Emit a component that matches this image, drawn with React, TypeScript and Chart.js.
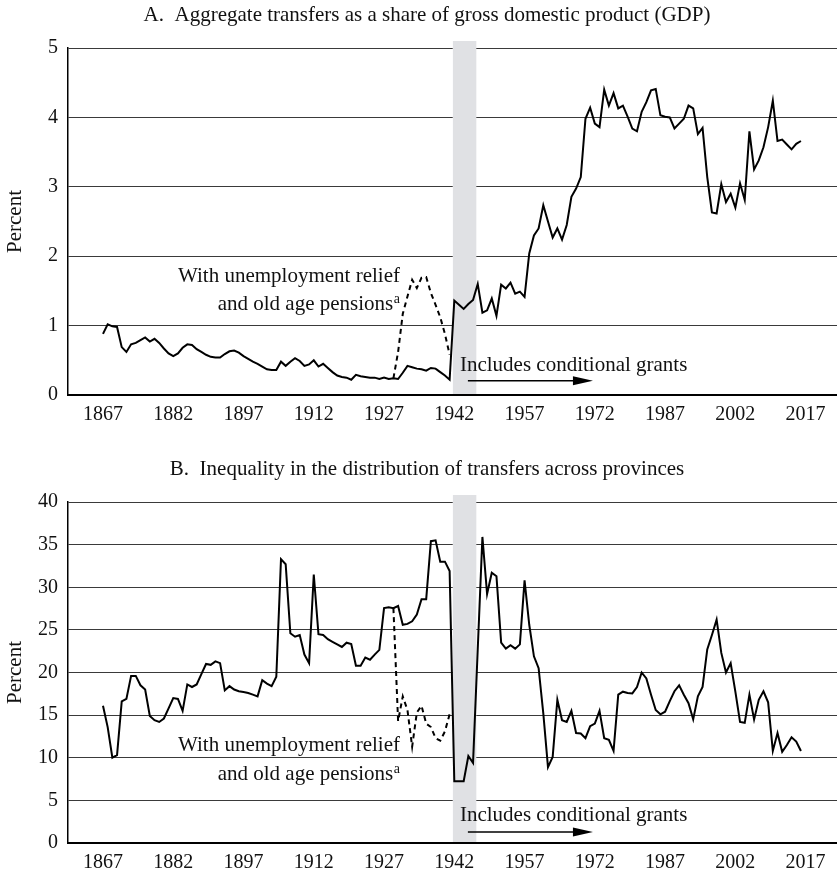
import React, { useEffect, useRef } from "react";
import { Chart, registerables } from "chart.js";

Chart.register(...registerables);

// ---------------- data ----------------
const FIRST_YEAR = 1867;
const RELIEF_FIRST_YEAR = 1929;
const xTickYears = [1867, 1882, 1897, 1912, 1927, 1942, 1957, 1972, 1987, 2002, 2017];
const conditionalGrantsBand = [1941.7, 1946.7];

// Panel A: aggregate transfers as % of GDP, 1867-2016
const transfersShareGdp = [
  0.88, 1.02, 0.99, 0.98, 0.69, 0.62, 0.73, 0.75, 0.79, 0.83,
  0.77, 0.81, 0.75, 0.67, 0.6, 0.56, 0.6, 0.68, 0.73, 0.72,
  0.66, 0.62, 0.58, 0.55, 0.54, 0.54, 0.59, 0.63, 0.64, 0.61,
  0.56, 0.52, 0.48, 0.45, 0.41, 0.37, 0.36, 0.36, 0.48, 0.42,
  0.48, 0.53, 0.49, 0.42, 0.44, 0.5, 0.41, 0.45, 0.39, 0.33,
  0.28, 0.26, 0.25, 0.22, 0.29, 0.27, 0.26, 0.25, 0.25, 0.23,
  0.25, 0.23, 0.24, 0.23, 0.32, 0.42, 0.4, 0.38, 0.37, 0.35,
  0.39, 0.38, 0.33, 0.28, 0.22, 1.36, 1.3, 1.24, 1.31, 1.37,
  1.6, 1.185, 1.22, 1.39, 1.14, 1.59, 1.535, 1.62, 1.46, 1.49,
  1.415, 2.04, 2.3, 2.4, 2.735, 2.5, 2.27, 2.4, 2.24, 2.45,
  2.855, 2.975, 3.14, 3.98, 4.14, 3.91, 3.86, 4.4, 4.17, 4.35,
  4.13, 4.17, 4.01, 3.84, 3.8, 4.08, 4.22, 4.39, 4.41, 4.03,
  4.01, 4.0, 3.84, 3.91, 3.98, 4.17, 4.13, 3.76, 3.85, 3.14,
  2.63, 2.615, 3.04, 2.78, 2.9, 2.7, 3.05, 2.81, 3.8, 3.25,
  3.38, 3.57, 3.86, 4.24, 3.66, 3.68, 3.61, 3.54, 3.62, 3.66,
];
// Panel A: with unemployment relief and old age pensions, 1929-1941
const transfersShareGdpWithRelief = [0.24, 0.62, 1.17, 1.42, 1.66, 1.54, 1.69, 1.7, 1.47, 1.3, 1.12, 0.88, 0.58];

// Panel B: inequality of transfers across provinces, 1867-2016
const transfersInequality = [
  16.1, 13.6, 10.0, 10.3, 16.6, 16.9, 19.6, 19.6, 18.5, 18.0,
  14.9, 14.4, 14.2, 14.6, 15.8, 17.0, 16.9, 15.5, 18.6, 18.3,
  18.6, 19.8, 21.0, 20.9, 21.3, 21.1, 17.9, 18.4, 18.0, 17.8,
  17.7, 17.6, 17.4, 17.2, 19.1, 18.7, 18.4, 19.5, 33.3, 32.7,
  24.6, 24.2, 24.4, 22.1, 21.1, 31.5, 24.5, 24.4, 23.9, 23.6,
  23.3, 23.0, 23.5, 23.35, 20.8, 20.8, 21.75, 21.5, 22.1, 22.65,
  27.55, 27.65, 27.55, 27.8, 25.6, 25.7, 26.0, 26.8, 28.6, 28.6,
  35.4, 35.5, 33.0, 33.0, 31.9, 7.25, 7.25, 7.25, 10.2, 9.4,
  22.7, 35.9, 29.2, 31.7, 31.3, 23.5, 22.8, 23.2, 22.8, 23.3,
  30.8, 25.6, 21.9, 20.5, 15.2, 8.9, 10.1, 16.8, 14.4, 14.2,
  15.5, 12.9, 12.85, 12.3, 13.7, 14.0, 15.5, 12.3, 12.1, 10.8,
  17.4, 17.75, 17.6, 17.55, 18.3, 20.0, 19.3, 17.4, 15.6, 15.1,
  15.4, 16.65, 17.8, 18.5, 17.4, 16.4, 14.5, 17.2, 18.3, 22.7,
  24.4, 26.2, 22.3, 20.0, 21.1, 17.75, 14.2, 14.1, 17.4, 14.5,
  16.8, 17.8, 16.5, 10.8, 12.9, 10.7, 11.5, 12.4, 11.9, 10.8,
];
// Panel B: with unemployment relief and old age pensions, 1929-1941
const transfersInequalityWithRelief = [27.55, 14.3, 17.2, 15.6, 11.3, 15.3, 16.1, 14.0, 13.6, 12.3, 12.0, 13.1, 15.1];

const titleA = "A.  Aggregate transfers as a share of gross domestic product (GDP)";
const titleB = "B.  Inequality in the distribution of transfers across provinces";
const yAxisTitle = "Percent";
const reliefLine1 = "With unemployment relief";
const reliefLine2 = "and old age pensions";
const reliefNote = "a";
const grantsLabel = "Includes conditional grants";

// ---------------- styling / layout ----------------
const FONT = '"Liberation Serif", "Times New Roman", serif';
const W = 837;
const H = 437;

type PanelCfg = {
  title: string;
  values: number[];
  reliefValues: number[];
  yMax: number;
  yStep: number;
  padTop: number;
  xAxisHeight: number;
  titleBaseline: number;
  relief: { x: number; y1: number; y2: number };
  grants: { x: number; y: number; arrowY: number; from: number; to: number };
};

const panelA: PanelCfg = {
  title: titleA,
  values: transfersShareGdp,
  reliefValues: transfersShareGdpWithRelief,
  yMax: 5,
  yStep: 1,
  padTop: 48,
  xAxisHeight: 42,
  titleBaseline: 21,
  relief: { x: 1930.4, y1: 1.631, y2: 1.224 },
  grants: { x: 1943.2, y: 0.346, arrowY: 0.206, from: 1944.9, to: 1971.6 },
};

const panelB: PanelCfg = {
  title: titleB,
  values: transfersInequality,
  reliefValues: transfersInequalityWithRelief,
  yMax: 40,
  yStep: 5,
  padTop: 65,
  xAxisHeight: 31,
  titleBaseline: 38,
  relief: { x: 1930.4, y1: 10.78, y2: 7.37 },
  grants: { x: 1943.2, y: 2.55, arrowY: 1.29, from: 1944.9, to: 1971.6 },
};

function decorPlugin(cfg: PanelCfg) {
  return {
    id: "decor",
    beforeDatasetsDraw(chart: any) {
      const { ctx, chartArea, scales } = chart;
      const x0 = scales.x.getPixelForValue(conditionalGrantsBand[0]);
      const x1 = scales.x.getPixelForValue(conditionalGrantsBand[1]);
      ctx.save();
      ctx.fillStyle = "#e0e1e4";
      ctx.fillRect(x0, chartArea.top - 7, x1 - x0, chartArea.bottom - chartArea.top + 7);
      ctx.restore();
    },
    afterDraw(chart: any) {
      const { ctx, chartArea, scales } = chart;
      const xs = scales.x;
      const ys = scales.y;
      ctx.save();
      ctx.fillStyle = "#111";
      ctx.textBaseline = "alphabetic";
      // title
      ctx.font = `21px ${FONT}`;
      ctx.textAlign = "center";
      ctx.fillText(cfg.title, 427, cfg.titleBaseline);
      // y axis title
      ctx.save();
      ctx.translate(21, (chartArea.top + chartArea.bottom) / 2);
      ctx.rotate(-Math.PI / 2);
      ctx.textAlign = "center";
      ctx.font = `21px ${FONT}`;
      ctx.fillText(yAxisTitle, 0, 0);
      ctx.restore();
      // relief label
      const rx = xs.getPixelForValue(cfg.relief.x);
      ctx.font = `21px ${FONT}`;
      ctx.textAlign = "right";
      ctx.fillText(reliefLine1, rx, ys.getPixelForValue(cfg.relief.y1));
      ctx.font = `14px ${FONT}`;
      const aw = ctx.measureText(reliefNote).width;
      const l2y = ys.getPixelForValue(cfg.relief.y2);
      ctx.textAlign = "left";
      ctx.fillText(reliefNote, rx - aw, l2y - 7);
      ctx.font = `21px ${FONT}`;
      ctx.textAlign = "right";
      ctx.fillText(reliefLine2, rx - aw - 0.5, l2y);
      // grants label + arrow
      ctx.textAlign = "left";
      ctx.fillText(grantsLabel, xs.getPixelForValue(cfg.grants.x), ys.getPixelForValue(cfg.grants.y));
      const ay = ys.getPixelForValue(cfg.grants.arrowY);
      const ax0 = xs.getPixelForValue(cfg.grants.from);
      const ax1 = xs.getPixelForValue(cfg.grants.to);
      ctx.strokeStyle = "#000";
      ctx.lineWidth = 1.5;
      ctx.beginPath();
      ctx.moveTo(ax0, ay);
      ctx.lineTo(ax1 - 18, ay);
      ctx.stroke();
      ctx.fillStyle = "#000";
      ctx.beginPath();
      ctx.moveTo(ax1, ay);
      ctx.lineTo(ax1 - 20, ay - 4.5);
      ctx.lineTo(ax1 - 20, ay + 4.5);
      ctx.closePath();
      ctx.fill();
      ctx.restore();
    },
  };
}

function Panel({ cfg, top }: { cfg: PanelCfg; top: number }) {
  const ref = useRef<HTMLCanvasElement | null>(null);
  useEffect(() => {
    if (!ref.current) return;
    const main = cfg.values.map((v, i) => ({ x: FIRST_YEAR + i, y: v }));
    const relief = cfg.reliefValues.map((v, i) => ({ x: RELIEF_FIRST_YEAR + i, y: v }));
    const chart = new Chart(ref.current, {
      type: "line",
      data: {
        datasets: [
          {
            data: relief,
            borderColor: "#000",
            borderWidth: 2,
            borderDash: [5, 4],
            pointRadius: 0,
            tension: 0,
            fill: false,
          },
          {
            data: main,
            borderColor: "#000",
            borderWidth: 2,
            pointRadius: 0,
            tension: 0,
            fill: false,
          },
        ],
      },
      plugins: [decorPlugin(cfg)],
      options: {
        animation: false,
        responsive: false,
        devicePixelRatio: 1,
        parsing: false as any,
        layout: { padding: { left: 0, right: 0, top: cfg.padTop, bottom: 0 } },
        plugins: { legend: { display: false }, tooltip: { enabled: false }, title: { display: false } },
        scales: {
          x: {
            type: "linear",
            min: 1859.53,
            max: 2023.7,
            grid: { display: false, drawTicks: false },
            border: { display: true, color: "#000", width: 2, z: 1 },
            afterBuildTicks: (s: any) => {
              s.ticks = xTickYears.map((v) => ({ value: v }));
            },
            afterFit: (s: any) => {
              s.height = cfg.xAxisHeight;
            },
            ticks: {
              autoSkip: false,
              maxRotation: 0,
              padding: 8,
              color: "#111",
              font: { family: FONT, size: 20 },
              callback: (v: any) => String(v),
            },
          },
          y: {
            type: "linear",
            min: 0,
            max: cfg.yMax,
            grid: { color: "#3a3a3a", lineWidth: 1, drawTicks: false },
            border: { display: true, color: "#000", width: 1.5, z: 1 },
            afterFit: (s: any) => {
              s.width = 68;
            },
            ticks: {
              stepSize: cfg.yStep,
              padding: 10,
              color: "#111",
              font: { family: FONT, size: 20 },
              callback: (v: any) => String(v),
            },
          },
        },
      },
    } as any);
    return () => chart.destroy();
  }, [cfg]);
  return (
    <canvas
      ref={ref}
      width={W}
      height={H}
      style={{ position: "absolute", left: 0, top, width: W, height: H, display: "block" }}
    />
  );
}

export default function App() {
  return (
    <div style={{ position: "absolute", left: 0, top: 0, width: W, height: 874, background: "#fff" }}>
      <Panel cfg={panelA} top={0} />
      <Panel cfg={panelB} top={437} />
    </div>
  );
}
